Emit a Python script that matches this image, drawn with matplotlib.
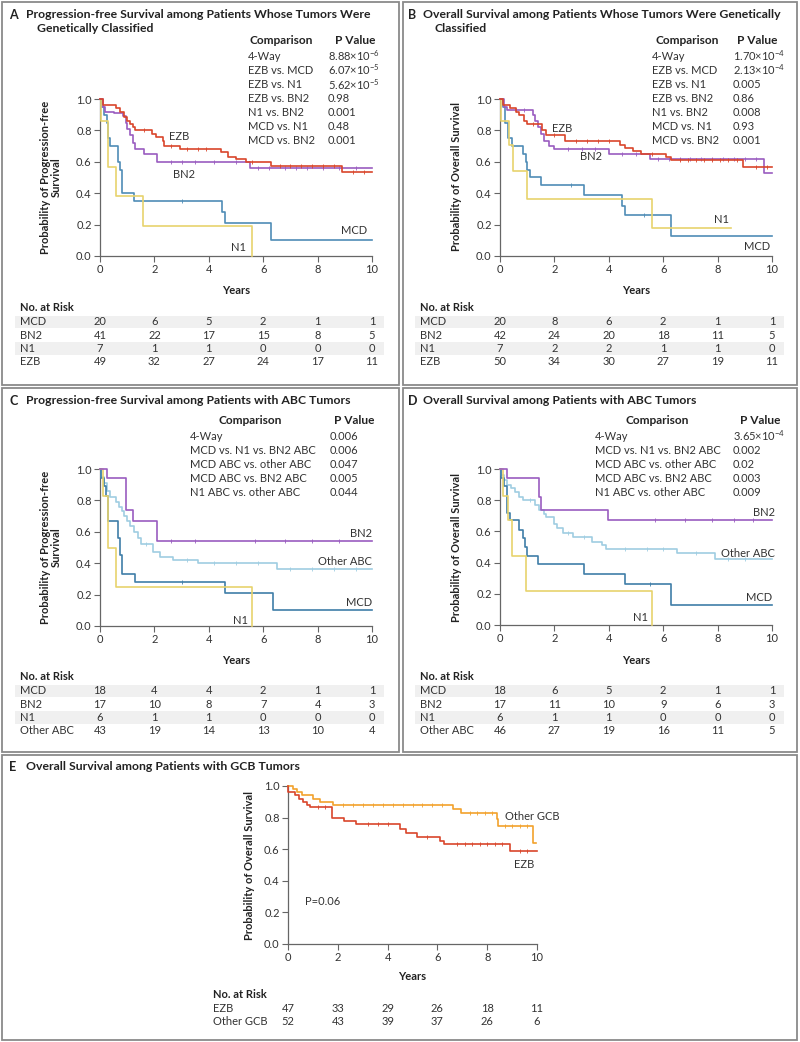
import numpy as np
import matplotlib
matplotlib.use('Agg')
import matplotlib.pyplot as plt
from matplotlib.patches import Rectangle
from matplotlib.transforms import blended_transform_factory

# ---------------- DATA ----------------
years = [0, 2, 4, 6, 8, 10]
yticks = [0.0, 0.2, 0.4, 0.6, 0.8, 1.0]

# Panel A: progression-free survival, genetically classified
a_ezb_t = [0, 0.12, 0.6, 0.75, 0.9, 1.0, 1.1, 1.2, 1.3, 1.9, 2.05, 2.3, 2.35, 2.95, 4.45, 4.7, 5.0, 5.35, 6.3, 8.9, 10]
a_ezb_s = [1.0, 0.96, 0.94, 0.92, 0.885, 0.86, 0.84, 0.82, 0.80, 0.78, 0.76, 0.73, 0.70, 0.68, 0.66, 0.63, 0.62, 0.60, 0.575, 0.535, 0.535]
a_ezb_c = [1.6, 2.6, 3.2, 3.6, 3.9, 5.6, 6.6, 7.0, 7.4, 7.8, 8.2, 8.6, 9.3, 9.7]
a_bn2_t = [0, 0.1, 0.2, 0.5, 0.85, 0.95, 1.0, 1.1, 1.2, 1.3, 1.6, 2.1, 5.5, 10]
a_bn2_s = [1.0, 0.95, 0.92, 0.91, 0.89, 0.85, 0.81, 0.77, 0.72, 0.68, 0.65, 0.60, 0.56, 0.56]
a_bn2_c = [2.6, 3.0, 3.5, 4.2, 5.0, 5.8, 6.2, 6.8, 7.2, 7.6, 8.2, 8.8, 9.4]
a_mcd_t = [0, 0.05, 0.15, 0.25, 0.3, 0.35, 0.65, 0.72, 0.8, 1.25, 4.5, 4.6, 6.3, 10]
a_mcd_s = [1.0, 0.95, 0.90, 0.85, 0.75, 0.70, 0.60, 0.55, 0.40, 0.35, 0.28, 0.21, 0.105, 0.105]
a_mcd_c = [3.0]
a_n1_t = [0, 0.05, 0.3, 0.6, 1.57, 5.57, 5.57]
a_n1_s = [1.0, 0.86, 0.57, 0.38, 0.19, 0.0, 0.0]
a_n1_c = []

# Panel B: overall survival, genetically classified
b_ezb_t = [0, 0.1, 0.35, 0.6, 0.7, 0.9, 1.0, 1.55, 1.7, 2.4, 4.4, 4.6, 4.9, 5.2, 6.1, 6.3, 8.95, 10]
b_ezb_s = [1.0, 0.96, 0.94, 0.92, 0.90, 0.86, 0.84, 0.80, 0.77, 0.73, 0.71, 0.69, 0.67, 0.65, 0.63, 0.61, 0.57, 0.57]
b_ezb_c = [1.2, 2.0, 2.8, 3.2, 3.6, 4.0, 5.6, 6.6, 6.9, 7.2, 7.5, 7.8, 8.1, 8.4, 8.7, 9.4, 9.8]
b_bn2_t = [0, 0.15, 0.25, 1.2, 1.3, 1.4, 1.5, 1.6, 1.8, 2.0, 4.0, 5.5, 9.7, 10]
b_bn2_s = [1.0, 0.95, 0.93, 0.90, 0.86, 0.82, 0.78, 0.73, 0.70, 0.68, 0.65, 0.62, 0.53, 0.53]
b_bn2_c = [0.6, 0.9, 2.5, 3.0, 3.5, 4.5, 5.0, 5.8, 6.2, 6.6, 7.0, 7.4, 7.8, 8.2, 8.6, 9.0, 9.4]
b_mcd_t = [0, 0.1, 0.2, 0.3, 0.45, 0.85, 0.95, 1.0, 1.1, 1.5, 3.1, 4.5, 4.6, 6.3, 10]
b_mcd_s = [1.0, 0.95, 0.85, 0.75, 0.70, 0.65, 0.60, 0.55, 0.50, 0.45, 0.39, 0.32, 0.26, 0.13, 0.13]
b_mcd_c = [2.6, 5.3]
b_n1_t = [0, 0.05, 0.32, 0.49, 0.98, 5.6, 8.5]
b_n1_s = [1.0, 0.86, 0.71, 0.54, 0.36, 0.18, 0.18]
b_n1_c = []

# Panel C: progression-free survival, ABC tumors
c_bn2_t = [0, 0.25, 0.95, 1.22, 2.1, 10]
c_bn2_s = [1.0, 0.94, 0.74, 0.67, 0.54, 0.54]
c_bn2_c = [2.6, 3.5, 5.7, 6.8, 7.8, 8.8]
c_oth_t = [0, 0.05, 0.15, 0.25, 0.35, 0.6, 0.7, 0.8, 0.9, 1.0, 1.1, 1.25, 1.4, 1.5, 1.95, 2.2, 2.7, 3.6, 6.5, 10]
c_oth_s = [1.0, 0.95, 0.91, 0.86, 0.82, 0.79, 0.76, 0.73, 0.70, 0.67, 0.64, 0.60, 0.56, 0.52, 0.47, 0.44, 0.42, 0.40, 0.36, 0.36]
c_oth_c = [1.7, 3.2, 4.2, 5.0, 5.8, 7.0, 7.8, 8.6, 9.4]
c_mcd_t = [0, 0.05, 0.15, 0.22, 0.3, 0.65, 0.75, 0.8, 1.3, 4.6, 6.35, 10]
c_mcd_s = [1.0, 0.94, 0.89, 0.83, 0.67, 0.56, 0.45, 0.33, 0.28, 0.21, 0.10, 0.10]
c_mcd_c = [3.0]
c_n1_t = [0, 0.1, 0.3, 0.6, 5.6, 5.6]
c_n1_s = [1.0, 0.83, 0.50, 0.25, 0.0, 0.0]
c_n1_c = []

# Panel D: overall survival, ABC tumors
d_bn2_t = [0, 0.25, 1.42, 1.5, 3.96, 10]
d_bn2_s = [1.0, 0.94, 0.82, 0.74, 0.67, 0.67]
d_bn2_c = [5.7, 6.8, 7.8, 8.6, 9.3]
d_oth_t = [0, 0.05, 0.15, 0.25, 0.4, 0.55, 0.7, 0.85, 1.3, 1.45, 1.6, 1.7, 2.0, 2.1, 2.3, 2.7, 3.4, 3.75, 3.9, 6.5, 7.9, 10]
d_oth_s = [1.0, 0.96, 0.93, 0.90, 0.88, 0.85, 0.82, 0.80, 0.77, 0.74, 0.71, 0.69, 0.65, 0.62, 0.59, 0.565, 0.535, 0.51, 0.49, 0.46, 0.42, 0.42]
d_oth_c = [1.1, 2.5, 3.1, 4.6, 5.4, 6.0, 7.2, 8.4, 9.0]
d_mcd_t = [0, 0.05, 0.15, 0.25, 0.35, 0.7, 0.85, 0.92, 1.0, 1.4, 3.1, 4.6, 6.3, 10]
d_mcd_s = [1.0, 0.94, 0.89, 0.72, 0.67, 0.61, 0.56, 0.50, 0.44, 0.39, 0.33, 0.26, 0.13, 0.13]
d_mcd_c = [5.5]
d_n1_t = [0, 0.1, 0.3, 0.45, 0.97, 5.58, 5.58]
d_n1_s = [1.0, 0.83, 0.67, 0.44, 0.22, 0.0, 0.0]
d_n1_c = []

# Panel E: overall survival, GCB tumors
e_oth_t = [0, 0.2, 0.35, 0.55, 1.0, 1.3, 1.8, 6.63, 6.95, 8.4, 8.45, 9.85, 9.95]
e_oth_s = [1.0, 0.98, 0.96, 0.94, 0.92, 0.90, 0.88, 0.855, 0.83, 0.79, 0.745, 0.64, 0.64]
e_oth_c = [2.2, 2.6, 3.0, 3.4, 3.8, 4.2, 4.6, 5.0, 5.4, 5.8, 6.2, 7.3, 7.6, 7.9, 8.2, 8.7, 9.0, 9.3, 9.6]
e_ezb_t = [0, 0.02, 0.3, 0.45, 0.6, 0.75, 0.9, 1.75, 2.25, 2.72, 4.5, 4.75, 5.2, 6.1, 6.25, 8.9, 10]
e_ezb_s = [1.0, 0.96, 0.94, 0.92, 0.90, 0.88, 0.87, 0.80, 0.78, 0.757, 0.73, 0.705, 0.68, 0.655, 0.63, 0.59, 0.59]
e_ezb_c = [1.2, 1.5, 3.2, 3.6, 4.0, 5.6, 6.8, 7.1, 7.4, 7.7, 8.0, 8.3, 8.6, 9.3, 9.6]

# Numbers at risk
a_risk_labels = ['MCD', 'BN2', 'N1', 'EZB']
a_risk = [[20, 6, 5, 2, 1, 1], [41, 22, 17, 15, 8, 5], [7, 1, 1, 0, 0, 0], [49, 32, 27, 24, 17, 11]]
b_risk_labels = ['MCD', 'BN2', 'N1', 'EZB']
b_risk = [[20, 8, 6, 2, 1, 1], [42, 24, 20, 18, 11, 5], [7, 2, 2, 1, 1, 0], [50, 34, 30, 27, 19, 11]]
c_risk_labels = ['MCD', 'BN2', 'N1', 'Other ABC']
c_risk = [[18, 4, 4, 2, 1, 1], [17, 10, 8, 7, 4, 3], [6, 1, 1, 0, 0, 0], [43, 19, 14, 13, 10, 4]]
d_risk_labels = ['MCD', 'BN2', 'N1', 'Other ABC']
d_risk = [[18, 6, 5, 2, 1, 1], [17, 11, 10, 9, 6, 3], [6, 1, 1, 0, 0, 0], [46, 27, 19, 16, 11, 5]]
e_risk_labels = ['EZB', 'Other GCB']
e_risk = [[47, 33, 29, 26, 18, 11], [52, 43, 39, 37, 26, 6]]

# Comparison tables
a_comp = ['4-Way', 'EZB vs. MCD', 'EZB vs. N1', 'EZB vs. BN2', 'N1 vs. BN2', 'MCD vs. N1', 'MCD vs. BN2']
a_pval = ['8.88×10$^{-6}$', '6.07×10$^{-5}$', '5.62×10$^{-5}$', '0.98', '0.001', '0.48', '0.001']
b_comp = ['4-Way', 'EZB vs. MCD', 'EZB vs. N1', 'EZB vs. BN2', 'N1 vs. BN2', 'MCD vs. N1', 'MCD vs. BN2']
b_pval = ['1.70×10$^{-4}$', '2.13×10$^{-4}$', '0.005', '0.86', '0.008', '0.93', '0.001']
c_comp = ['4-Way', 'MCD vs. N1 vs. BN2 ABC', 'MCD ABC vs. other ABC', 'MCD ABC vs. BN2 ABC', 'N1 ABC vs. other ABC']
c_pval = ['0.006', '0.006', '0.047', '0.005', '0.044']
d_comp = ['4-Way', 'MCD vs. N1 vs. BN2 ABC', 'MCD ABC vs. other ABC', 'MCD ABC vs. BN2 ABC', 'N1 ABC vs. other ABC']
d_pval = ['3.65×10$^{-4}$', '0.002', '0.02', '0.003', '0.009']

# ---------------- STYLE ----------------
RED = '#d9452b'
PURPLE = '#9a5cc0'
BLUE = '#4f8cb6'
DBLUE = '#3f7ea8'
LBLUE = '#9fcde2'
YELLOW = '#e7d36d'
ORANGE = '#f2a22c'
TXT = '#333333'
DARK = '#222222'
BORDER = '#8a8a8a'
FS = 8.0       # body text
FS_T = 8.8     # titles
FS_L = 8.0     # axis labels

W, H = 800, 1042
plt.rcParams['font.family'] = ['Lato', 'DejaVu Sans']
plt.rcParams['mathtext.fontset'] = 'custom'
plt.rcParams['mathtext.rm'] = 'Lato'
plt.rcParams['mathtext.it'] = 'Lato:italic'
plt.rcParams['mathtext.bf'] = 'Lato:bold'
plt.rcParams['mathtext.default'] = 'regular'

fig = plt.figure(figsize=(8, 10.42), dpi=100)


def fx(x):
    return x / W


def fy(y):
    return 1 - y / H


def ftext(x, y, s, **kw):
    kw.setdefault('color', TXT)
    kw.setdefault('va', 'center')
    fig.text(fx(x), fy(y), s, **kw)


def box(x0, y0, x1, y1):
    fig.patches.append(Rectangle((fx(x0), fy(y1)), (x1 - x0) / W, (y1 - y0) / H,
                                 transform=fig.transFigure, facecolor='none',
                                 edgecolor=BORDER, linewidth=1.3, zorder=5))


def make_ax(x0, x1, ytop, ybot):
    ax = fig.add_axes([fx(x0), fy(ybot), (x1 - x0) / W, (ybot - ytop) / H])
    ax.set_xlim(0, 10)
    ax.set_ylim(0, 1)
    for s in ['top', 'right']:
        ax.spines[s].set_visible(False)
    for s in ['left', 'bottom']:
        ax.spines[s].set_color('#666666')
        ax.spines[s].set_linewidth(0.9)
    ax.set_xticks(years)
    ax.set_yticks(yticks)
    ax.set_yticklabels([f'{v:.1f}' for v in yticks])
    ax.tick_params(direction='out', length=4, width=0.8, color='#666666',
                   labelsize=FS, labelcolor=TXT, pad=2)
    ax.patch.set_alpha(0)
    return ax


def km(ax, t, s, c, color):
    ax.step(t, s, where='post', color=color, lw=1.2, clip_on=False, zorder=3)
    if len(c):
        t_arr = np.asarray(t)
        s_arr = np.asarray(s)
        idx = np.searchsorted(t_arr, c, side='right') - 1
        ax.plot(c, s_arr[idx], linestyle='none', marker='|', ms=2.6, mew=0.6,
                color=color, clip_on=False, zorder=3)


def risk_table(ax, title_x, title_y, labels, rows, row_y0, shade_x0, shade_x1):
    ftext(title_x, title_y, 'No. at Risk', fontsize=FS_L, fontweight='bold', color=DARK)
    tr = blended_transform_factory(ax.transData, fig.transFigure)
    for i, (lab, vals) in enumerate(zip(labels, rows)):
        y = row_y0 + i * 13.3
        if i % 2 == 0 and shade_x0 is not None:
            fig.patches.append(Rectangle((fx(shade_x0), fy(y + 6.3)), (shade_x1 - shade_x0) / W, 12.6 / H,
                                         transform=fig.transFigure, facecolor='#f0f0f0',
                                         edgecolor='none', zorder=-1))
        ftext(title_x, y, lab, fontsize=FS)
        for xv, v in zip(years, vals):
            ax.text(xv, fy(y), str(v), transform=tr, ha='center', va='center',
                    fontsize=FS, color=TXT)


def comp_table(x_comp, x_pval, hx_comp, hx_pval, y0, comps, pvals):
    ftext(hx_comp, y0, 'Comparison', fontsize=8.6, fontweight='bold', color=DARK)
    ftext(hx_pval, y0, 'P Value', fontsize=8.6, fontweight='bold', color=DARK)
    for i, (cname, p) in enumerate(zip(comps, pvals)):
        y = y0 + 16 + i * 14.1
        ftext(x_comp, y, cname, fontsize=FS)
        ftext(x_pval, y, p, fontsize=FS)


def curve_label(ax, x, y, s, ha='center'):
    ax.text(x, y, s, ha=ha, va='center', fontsize=FS, color=TXT)


# ---------------- BOXES ----------------
box(2, 2, 399, 385)
box(403, 2, 797, 385)
box(2, 388, 399, 752)
box(403, 388, 797, 752)
box(2, 755, 797, 1040)

# ---------------- PANEL A ----------------
ftext(9, 15, 'A', fontsize=9, fontweight='bold', color=DARK)
ftext(26, 15, 'Progression-free Survival among Patients Whose Tumors Were', fontsize=FS_T, fontweight='bold', color=DARK)
ftext(37, 29, 'Genetically Classified', fontsize=FS_T, fontweight='bold', color=DARK)
axA = make_ax(100, 372, 99, 256)
km(axA, a_mcd_t, a_mcd_s, a_mcd_c, BLUE)
km(axA, a_n1_t, a_n1_s, a_n1_c, YELLOW)
km(axA, a_bn2_t, a_bn2_s, a_bn2_c, PURPLE)
km(axA, a_ezb_t, a_ezb_s, a_ezb_c, RED)
curve_label(axA, 2.9, 0.76, 'EZB')
curve_label(axA, 3.1, 0.52, 'BN2')
curve_label(axA, 9.35, 0.163, 'MCD')
curve_label(axA, 5.1, 0.057, 'N1')
ftext(51, 177, 'Probability of Progression-free\nSurvival', rotation=90, ha='center',
      fontsize=FS_L, fontweight='bold', color=DARK, linespacing=1.05)
ftext(236, 290, 'Years', ha='center', fontsize=FS_L, fontweight='bold', color=DARK)
comp_table(248, 328, 249, 335, 40, a_comp, a_pval)
risk_table(axA, 20, 307, a_risk_labels, a_risk, 322, 15, 384)

# ---------------- PANEL B ----------------
ftext(408, 15, 'B', fontsize=9, fontweight='bold', color=DARK)
ftext(423, 15, 'Overall Survival among Patients Whose Tumors Were Genetically', fontsize=FS_T, fontweight='bold', color=DARK)
ftext(435, 29, 'Classified', fontsize=FS_T, fontweight='bold', color=DARK)
axB = make_ax(500, 772, 99, 256)
km(axB, b_mcd_t, b_mcd_s, b_mcd_c, BLUE)
km(axB, b_n1_t, b_n1_s, b_n1_c, YELLOW)
km(axB, b_bn2_t, b_bn2_s, b_bn2_c, PURPLE)
km(axB, b_ezb_t, b_ezb_s, b_ezb_c, RED)
curve_label(axB, 2.3, 0.815, 'EZB')
curve_label(axB, 3.35, 0.635, 'BN2')
curve_label(axB, 8.15, 0.23, 'N1')
curve_label(axB, 9.45, 0.062, 'MCD')
ftext(457, 177, 'Probability of Overall Survival', rotation=90, ha='center',
      fontsize=FS_L, fontweight='bold', color=DARK)
ftext(636, 290, 'Years', ha='center', fontsize=FS_L, fontweight='bold', color=DARK)
comp_table(652, 733, 655, 737, 40, b_comp, b_pval)
risk_table(axB, 420, 307, b_risk_labels, b_risk, 322, 415, 784)

# ---------------- PANEL C ----------------
ftext(9, 401, 'C', fontsize=9, fontweight='bold', color=DARK)
ftext(26, 401, 'Progression-free Survival among Patients with ABC Tumors', fontsize=FS_T, fontweight='bold', color=DARK)
axC = make_ax(100, 372, 469, 626)
km(axC, c_oth_t, c_oth_s, c_oth_c, LBLUE)
km(axC, c_mcd_t, c_mcd_s, c_mcd_c, DBLUE)
km(axC, c_n1_t, c_n1_s, c_n1_c, YELLOW)
km(axC, c_bn2_t, c_bn2_s, c_bn2_c, PURPLE)
curve_label(axC, 10, 0.59, 'BN2', ha='right')
curve_label(axC, 10, 0.41, 'Other ABC', ha='right')
curve_label(axC, 10, 0.147, 'MCD', ha='right')
curve_label(axC, 5.17, 0.036, 'N1')
ftext(51, 547, 'Probability of Progression-free\nSurvival', rotation=90, ha='center',
      fontsize=FS_L, fontweight='bold', color=DARK, linespacing=1.05)
ftext(236, 660, 'Years', ha='center', fontsize=FS_L, fontweight='bold', color=DARK)
comp_table(190, 330, 218, 334, 420, c_comp, c_pval)
risk_table(axC, 20, 677, c_risk_labels, c_risk, 691, 15, 384)

# ---------------- PANEL D ----------------
ftext(408, 401, 'D', fontsize=9, fontweight='bold', color=DARK)
ftext(423, 401, 'Overall Survival among Patients with ABC Tumors', fontsize=FS_T, fontweight='bold', color=DARK)
axD = make_ax(500, 772, 469, 625)
km(axD, d_oth_t, d_oth_s, d_oth_c, LBLUE)
km(axD, d_mcd_t, d_mcd_s, d_mcd_c, DBLUE)
km(axD, d_n1_t, d_n1_s, d_n1_c, YELLOW)
km(axD, d_bn2_t, d_bn2_s, d_bn2_c, PURPLE)
curve_label(axD, 10.1, 0.72, 'BN2', ha='right')
curve_label(axD, 10.1, 0.46, 'Other ABC', ha='right')
curve_label(axD, 10, 0.175, 'MCD', ha='right')
curve_label(axD, 5.18, 0.05, 'N1')
ftext(457, 547, 'Probability of Overall Survival', rotation=90, ha='center',
      fontsize=FS_L, fontweight='bold', color=DARK)
ftext(636, 660, 'Years', ha='center', fontsize=FS_L, fontweight='bold', color=DARK)
comp_table(595, 733, 625, 740, 420, d_comp, d_pval)
risk_table(axD, 420, 677, d_risk_labels, d_risk, 691, 415, 784)

# ---------------- PANEL E ----------------
ftext(9, 767, 'E', fontsize=9, fontweight='bold', color=DARK)
ftext(26, 767, 'Overall Survival among Patients with GCB Tumors', fontsize=FS_T, fontweight='bold', color=DARK)
axE = make_ax(288, 537, 786, 944)
km(axE, e_oth_t, e_oth_s, e_oth_c, ORANGE)
km(axE, e_ezb_t, e_ezb_s, e_ezb_c, RED)
curve_label(axE, 9.8, 0.81, 'Other GCB')
curve_label(axE, 9.5, 0.50, 'EZB')
curve_label(axE, 0.67, 0.266, 'P=0.06', ha='left')
ftext(249, 865, 'Probability of Overall Survival', rotation=90, ha='center',
      fontsize=FS_L, fontweight='bold', color=DARK)
ftext(412, 977, 'Years', ha='center', fontsize=FS_L, fontweight='bold', color=DARK)
risk_table(axE, 213, 995, e_risk_labels, e_risk, 1008, None, None)

fig.savefig('out.png', dpi=100)
